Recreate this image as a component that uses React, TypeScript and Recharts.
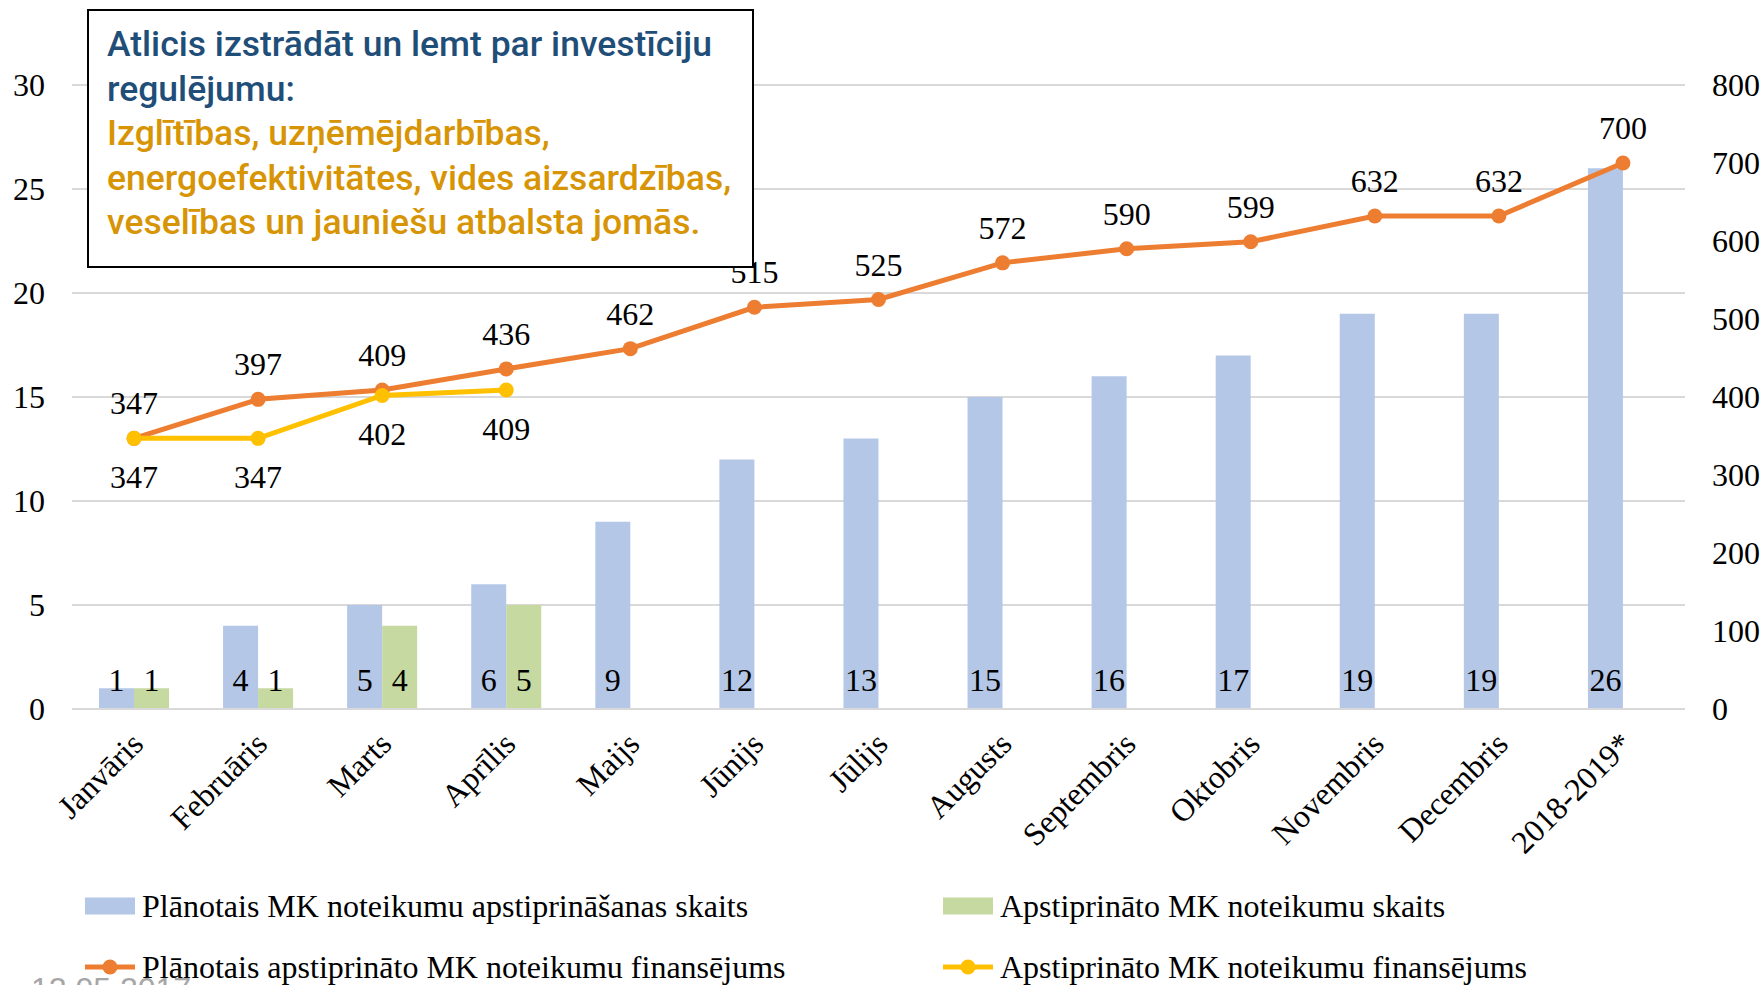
import React from 'react';
import { ComposedChart, Bar, Line, XAxis, YAxis, CartesianGrid, LabelList, Legend } from 'recharts';

const categories = ['Janvāris', 'Februāris', 'Marts', 'Aprīlis', 'Maijs', 'Jūnijs', 'Jūlijs', 'Augusts', 'Septembris', 'Oktobris', 'Novembris', 'Decembris', '2018-2019*'];
const plannedCount = [1, 4, 5, 6, 9, 12, 13, 15, 16, 17, 19, 19, 26];
const approvedCount: (number | null)[] = [1, 1, 4, 5, null, null, null, null, null, null, null, null, null];
const plannedFunding = [347, 397, 409, 436, 462, 515, 525, 572, 590, 599, 632, 632, 700];
const approvedFunding: (number | null)[] = [347, 347, 402, 409, null, null, null, null, null, null, null, null, null];
const leftTicks = [0, 5, 10, 15, 20, 25, 30];
const rightTicks = [0, 100, 200, 300, 400, 500, 600, 700, 800];

const seriesNames = {
  plannedCount: 'Plānotais MK noteikumu apstiprināšanas skaits',
  approvedCount: 'Apstiprināto MK noteikumu skaits',
  plannedFunding: 'Plānotais apstiprināto MK noteikumu finansējums',
  approvedFunding: 'Apstiprināto MK noteikumu finansējums',
};

const boxTitle = ['Atlicis izstrādāt un lemt par investīciju', 'regulējumu:'];
const boxBody = ['Izglītības, uzņēmējdarbības,', 'energoefektivitātes, vides aizsardzības,', 'veselības un jauniešu atbalsta jomās.'];
const dateText = '12.05.2017';

const BLUE = '#B4C7E7';
const GREEN = '#C5D9A1';
const ORANGE = '#ED7D31';
const YELLOW = '#FFC000';
const GRID = '#D9D9D9';
const SERIF = '"Liberation Serif", "Times New Roman", serif';
const FS = 32;

const data = categories.map((c, i) => ({
  name: c,
  plannedCount: plannedCount[i],
  approvedCount: approvedCount[i],
  plannedFunding: plannedFunding[i],
  approvedFunding: approvedFunding[i],
}));

const XTick = (props: any) => {
  const { x, y, payload } = props;
  const ax = x + 11;
  const ay = y + 37;
  return (
    <text x={ax} y={ay} transform={`rotate(-45, ${ax}, ${ay})`} textAnchor="end" fontFamily={SERIF} fontSize={FS} fill="#000">
      {payload.value}
    </text>
  );
};

const LegendContent = () => {
  const items = [
    { key: 'plannedCount', kind: 'rect', color: BLUE, x: 85, y: 31 },
    { key: 'approvedCount', kind: 'rect', color: GREEN, x: 943, y: 31 },
    { key: 'plannedFunding', kind: 'line', color: ORANGE, x: 85, y: 92 },
    { key: 'approvedFunding', kind: 'line', color: YELLOW, x: 943, y: 92 },
  ];
  return (
    <svg width={1764} height={110} style={{ display: 'block' }}>
      {items.map((it) => (
        <g key={it.key}>
          {it.kind === 'rect' ? (
            <rect x={it.x} y={it.y - 8.5} width={50} height={17} fill={it.color} />
          ) : (
            <g>
              <line x1={it.x} x2={it.x + 50} y1={it.y} y2={it.y} stroke={it.color} strokeWidth={5} />
              <circle cx={it.x + 25} cy={it.y} r={7.5} fill={it.color} />
            </g>
          )}
          <text x={it.x + 57} y={it.y + 11} fontFamily={SERIF} fontSize={FS} fill="#000">
            {(seriesNames as any)[it.key]}
          </text>
        </g>
      ))}
    </svg>
  );
};

export default function App() {
  return (
    <div style={{ position: 'absolute', left: 0, top: 0, width: 1764, height: 985, overflow: 'hidden', background: '#fff' }}>
      <ComposedChart
        width={1764}
        height={985}
        data={data}
        margin={{ top: 85, right: 0, bottom: 0, left: 0 }}
        barGap={0}
      >
        <CartesianGrid vertical={false} stroke={GRID} strokeWidth={2} yAxisId="left" />
        <XAxis
          dataKey="name"
          height={166}
          tickLine={false}
          axisLine={{ stroke: GRID, strokeWidth: 2 }}
          tickSize={0}
          tickMargin={0}
          interval={0}
          tick={<XTick />}
        />
        <YAxis
          yAxisId="left"
          orientation="left"
          width={72}
          domain={[0, 30]}
          ticks={leftTicks}
          axisLine={false}
          tickLine={false}
          tickSize={0}
          tickMargin={27}
          tick={{ fontFamily: SERIF, fontSize: FS, fill: '#000' }}
        />
        <YAxis
          yAxisId="right"
          orientation="right"
          width={79}
          domain={[0, 800]}
          ticks={rightTicks}
          axisLine={false}
          tickLine={false}
          tickSize={0}
          tickMargin={27}
          tick={{ fontFamily: SERIF, fontSize: FS, fill: '#000', textAnchor: 'start' }}
        />
        <Legend
          verticalAlign="bottom"
          content={<LegendContent />}
          wrapperStyle={{ left: 0, bottom: 0, width: 1764, height: 110 }}
        />
        <Bar yAxisId="left" dataKey="plannedCount" name={seriesNames.plannedCount} fill={BLUE} barSize={35} isAnimationActive={false}>
          <LabelList dataKey="plannedCount" position="insideBottom" offset={18} fontFamily={SERIF} fontSize={FS} fill="#000" />
        </Bar>
        <Bar yAxisId="left" dataKey="approvedCount" name={seriesNames.approvedCount} fill={GREEN} barSize={35} isAnimationActive={false}>
          <LabelList dataKey="approvedCount" position="insideBottom" offset={18} fontFamily={SERIF} fontSize={FS} fill="#000" />
        </Bar>
        <Line
          yAxisId="right"
          dataKey="plannedFunding"
          name={seriesNames.plannedFunding}
          stroke={ORANGE}
          strokeWidth={5}
          dot={{ r: 7.5, fill: ORANGE, stroke: ORANGE, strokeWidth: 0 }}
          activeDot={false}
          isAnimationActive={false}
        >
          <LabelList dataKey="plannedFunding" position="top" offset={24} fontFamily={SERIF} fontSize={FS} fill="#000" />
        </Line>
        <Line
          yAxisId="right"
          dataKey="approvedFunding"
          name={seriesNames.approvedFunding}
          stroke={YELLOW}
          strokeWidth={5}
          dot={{ r: 7.5, fill: YELLOW, stroke: YELLOW, strokeWidth: 0 }}
          activeDot={false}
          isAnimationActive={false}
        >
          <LabelList dataKey="approvedFunding" position="bottom" offset={27} fontFamily={SERIF} fontSize={FS} fill="#000" />
        </Line>
      </ComposedChart>
      <svg width={1764} height={985} style={{ position: 'absolute', left: 0, top: 0, pointerEvents: 'none' }}>
        <rect x={88} y={10} width={665} height={257} fill="#fff" stroke="#000" strokeWidth={2} />
        {boxTitle.map((t, i) => (
          <text key={'t' + i} x={107} y={56 + i * 44.5} fontFamily="Roboto, sans-serif" fontWeight={500} fontSize={35.5} fill="#1F4E79">{t}</text>
        ))}
        {boxBody.map((t, i) => (
          <text key={'b' + i} x={107} y={56 + (i + 2) * 44.5} fontFamily="Roboto, sans-serif" fontWeight={500} fontSize={35.5} fill="#D79405">{t}</text>
        ))}
        <text x={31} y={1000} fontFamily='"Liberation Sans", Arial, sans-serif' fontSize={32} fill="#A6A6A6">{dateText}</text>
      </svg>
    </div>
  );
}
